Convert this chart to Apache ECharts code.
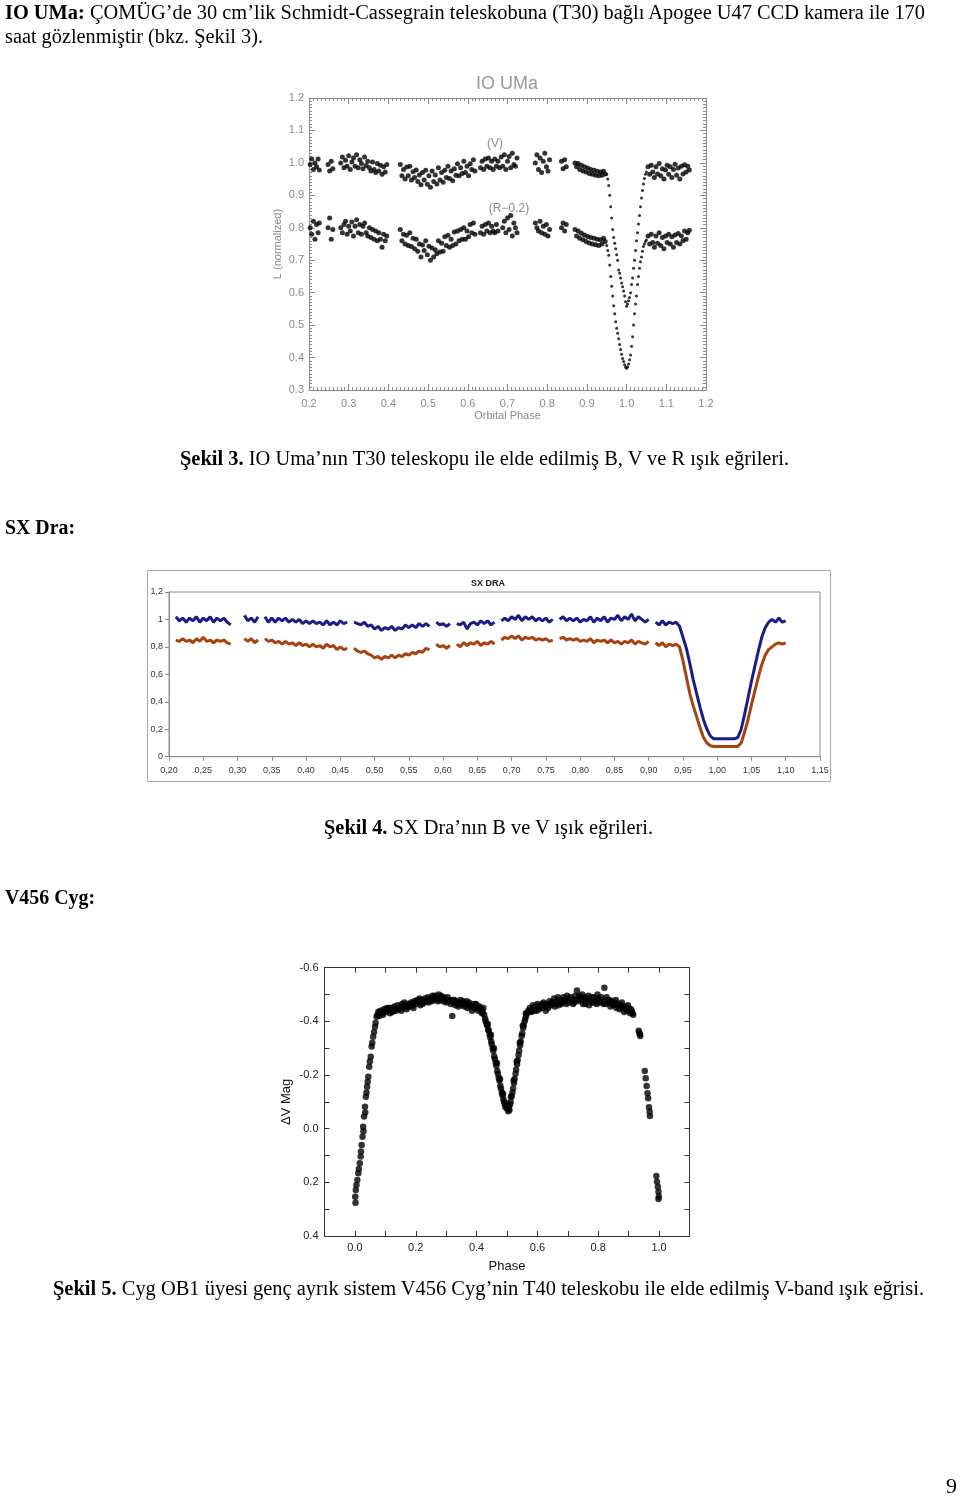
<!DOCTYPE html>
<html><head><meta charset="utf-8">
<script src="https://cdn.jsdelivr.net/npm/echarts@6/dist/echarts.min.js"></script>
<style>
html,body{margin:0;padding:0;background:#fff;}
#page{position:relative;width:960px;height:1497px;overflow:hidden;background:#fff;}
#chart{position:absolute;left:0;top:0;width:960px;height:1497px;}
.t{position:absolute;white-space:nowrap;font-family:'Liberation Serif','Times New Roman',serif;font-size:20px;line-height:20px;color:#000;transform-origin:0 50%;}
</style></head><body><div id="page"><div id="chart"></div></div>
<script>
// ---------- IO UMa (Şekil 3) ----------
const ioPhase = [
 0.203,0.207,0.211,0.215,0.219,0.223,0.226,
 0.248,0.252,0.256,0.260,
 0.280,0.284,0.288,0.292,0.296,0.300,0.304,0.308,0.312,0.316,0.320,0.324,0.328,0.332,0.336,0.340,0.344,0.348,0.352,0.356,0.360,0.364,0.368,0.372,0.376,0.380,0.384,0.388,0.392,0.396,
 0.430,0.434,0.438,0.442,0.446,0.450,0.454,0.458,0.462,0.466,0.470,0.474,0.478,0.482,0.486,0.490,0.494,0.498,0.502,0.506,0.510,0.514,0.518,0.522,0.526,0.530,0.534,0.538,0.542,0.546,0.550,0.554,0.558,0.562,0.566,0.570,0.574,0.578,0.582,0.586,0.590,0.594,0.598,0.602,0.606,0.610,0.614,0.618,
 0.632,0.636,0.640,0.644,0.648,0.652,0.656,0.660,0.664,0.668,0.672,0.676,0.680,0.684,0.688,0.692,0.696,0.700,0.704,0.708,0.712,0.716,0.720,0.724,
 0.770,0.774,0.778,0.782,0.786,0.790,0.794,0.798,0.802,0.806,
 0.836,0.840,0.844,0.848,
 0.870,0.874,0.878,0.882,0.886,0.890,0.894,0.898,0.902,0.906,0.910,0.914,0.918,0.922,0.926,0.930,0.934,0.938,0.942,0.946,
 0.9500,0.9525,0.9550,0.9575,0.9600,0.9625,0.9650,0.9675,0.9700,0.9725,0.9750,0.9775,0.9800,0.9825,0.9850,0.9875,0.9900,0.9925,0.9950,0.9975,1.0000,1.0025,1.0050,1.0075,1.0100,1.0125,1.0150,1.0175,1.0200,1.0225,1.0250,1.0275,1.0300,1.0325,1.0350,1.0375,1.0400,1.0425,1.0450,1.0475,1.0500,
 1.054,1.058,1.062,1.066,1.070,1.074,1.078,1.082,1.086,1.090,1.094,1.098,1.102,1.106,1.110,1.114,1.118,1.122,1.126,1.130,1.134,1.138,1.142,1.146,1.150,1.154,1.158
];
const ioV = [
 0.995,1.012,0.98,1.0,0.988,1.012,0.978,
 0.995,0.975,1.005,0.982,
 1.0,1.018,0.985,1.008,0.99,1.022,0.98,1.003,1.015,0.99,1.025,0.985,1.01,0.998,0.982,1.018,0.992,1.005,0.985,0.975,1.003,0.98,0.97,0.998,0.975,0.993,0.965,0.988,0.972,0.995,
 0.995,0.96,0.98,0.95,0.987,0.96,0.99,0.947,0.973,0.955,0.978,0.943,0.963,0.933,0.97,0.947,0.977,0.934,0.96,0.925,0.975,0.943,0.963,0.935,0.985,0.947,0.97,0.94,0.977,0.955,0.99,0.952,0.975,0.945,0.982,0.962,0.997,0.96,0.985,0.967,1.005,0.97,0.99,0.96,0.997,0.98,1.01,0.975,
 0.985,1.005,0.98,1.012,0.99,1.015,0.985,1.005,0.98,1.012,0.99,1.005,0.985,1.018,0.99,1.025,0.98,1.005,1.02,0.985,1.03,0.995,0.99,1.015,
 1.0,1.025,0.98,1.015,0.97,1.005,1.03,0.988,0.975,1.01,
 1.005,0.982,1.01,0.988,
 1.0,0.988,0.998,0.98,0.993,0.975,0.988,0.972,0.984,0.967,0.98,0.965,0.977,0.962,0.974,0.96,0.972,0.962,0.974,0.966,
 0.965,0.95,0.93,0.90,0.865,0.83,0.795,0.77,0.752,0.735,0.717,0.70,0.67,0.66,0.645,0.63,0.618,0.605,0.59,0.572,0.558,0.565,0.575,0.585,0.60,0.625,0.645,0.675,0.70,0.73,0.76,0.785,0.812,0.838,0.865,0.892,0.915,0.935,0.952,0.965,0.972,
 0.988,0.965,0.993,0.972,0.955,0.988,0.966,0.998,0.96,0.982,0.95,0.978,0.993,0.965,0.988,0.955,0.98,0.996,0.962,0.984,0.95,0.99,0.966,0.994,0.972,0.99,0.978
];
const ioR = [
 0.80,0.78,0.82,0.765,0.81,0.785,0.815,
 0.80,0.83,0.765,0.795,
 0.80,0.785,0.81,0.82,0.78,0.805,0.79,0.818,0.775,0.805,0.825,0.785,0.81,0.78,0.805,0.815,0.785,0.775,0.80,0.77,0.795,0.765,0.79,0.76,0.785,0.765,0.74,0.78,0.76,0.775,
 0.795,0.76,0.78,0.75,0.777,0.745,0.785,0.742,0.768,0.735,0.765,0.728,0.75,0.71,0.747,0.73,0.76,0.717,0.743,0.70,0.738,0.71,0.732,0.72,0.76,0.725,0.752,0.728,0.772,0.745,0.777,0.74,0.765,0.745,0.787,0.75,0.79,0.76,0.795,0.765,0.80,0.765,0.79,0.772,0.81,0.785,0.815,0.78,
 0.785,0.805,0.78,0.81,0.79,0.815,0.785,0.805,0.79,0.785,0.81,0.79,null,null,0.80,0.82,0.785,0.83,0.795,0.838,0.775,0.815,0.80,0.785,
 0.815,0.80,0.79,0.82,0.785,0.805,0.78,0.81,0.775,0.795,
 0.80,0.815,0.79,0.81,
 0.795,0.775,0.79,0.768,0.783,0.763,0.778,0.758,0.773,0.753,0.77,0.75,0.768,0.748,0.765,0.745,0.763,0.75,0.768,0.758,
 0.745,0.73,0.715,0.685,0.65,0.62,0.59,0.56,0.535,0.51,0.49,0.475,0.458,0.44,0.425,0.41,0.397,0.388,0.378,0.37,0.367,0.372,0.38,0.393,0.408,0.435,0.464,0.50,0.535,0.565,0.59,0.625,0.65,0.675,0.695,0.71,0.728,0.742,0.75,0.758,0.762,
 0.775,0.75,0.78,0.755,0.74,0.775,0.752,0.785,0.745,0.77,0.735,0.775,0.755,0.78,0.75,0.772,0.74,0.778,0.755,0.782,0.75,0.775,0.76,0.79,0.765,0.785,0.792
];

// ---------- SX Dra (Şekil 4) ----------
const sxPhase = [
 0.210,0.215,0.220,0.225,0.230,0.235,0.240,0.245,0.250,0.255,0.260,0.265,0.270,0.275,0.280,0.285,0.290,
 0.300,
 0.310,0.315,0.320,0.325,0.330,
 0.335,
 0.340,0.345,0.350,0.355,0.360,0.365,0.370,0.375,0.380,0.385,0.390,0.395,0.400,0.405,0.410,0.415,0.420,0.425,0.430,0.435,0.440,0.445,0.450,0.455,0.460,
 0.465,
 0.470,0.475,0.480,0.485,0.490,0.495,0.500,0.505,0.510,0.515,0.520,0.525,0.530,0.535,0.540,0.545,0.550,0.555,0.560,0.565,0.570,0.575,0.580,
 0.585,
 0.590,0.595,0.600,0.605,0.610,
 0.615,
 0.620,0.625,0.630,0.635,0.640,0.645,0.650,0.655,0.660,0.665,0.670,0.675,
 0.680,
 0.685,0.690,0.695,0.700,0.705,0.710,0.715,0.720,0.725,0.730,0.735,0.740,0.745,0.750,0.755,0.760,
 0.765,
 0.770,0.775,0.780,0.785,0.790,0.795,0.800,0.805,0.810,0.815,0.820,0.825,0.830,0.835,0.840,0.845,0.850,0.855,0.860,0.865,0.870,0.875,0.880,0.885,0.890,0.895,0.900,
 0.905,
 0.910,0.915,0.920,0.925,0.930,0.935,0.940,0.945,0.950,0.955,0.960,0.965,0.970,0.975,0.980,0.985,0.990,0.995,1.000,1.005,1.010,1.015,1.020,1.025,1.030,1.035,1.040,1.045,1.050,1.055,1.060,1.065,1.070,1.075,1.080,1.085,1.090,1.095,1.100
];
const sxBlue = [
 1.02,0.99,1.01,0.98,1.01,0.99,1.02,0.98,1.01,0.99,1.02,0.98,1.01,0.99,1.01,0.98,0.96,
 null,
 1.03,0.99,1.01,0.98,1.02,
 null,
 1.02,0.98,1.01,0.98,1.01,0.99,1.01,0.98,1.0,0.98,1.0,0.97,0.99,0.97,0.99,0.97,0.98,0.96,0.99,0.96,0.98,0.96,0.99,0.97,0.98,
 null,
 0.98,0.97,0.96,0.98,0.95,0.96,0.93,0.95,0.92,0.94,0.93,0.95,0.92,0.94,0.93,0.96,0.94,0.96,0.94,0.97,0.95,0.97,0.95,
 null,
 0.98,0.96,0.97,0.95,0.97,
 null,
 0.97,0.96,0.98,0.93,0.97,0.98,0.96,0.99,0.97,0.99,0.96,0.98,
 null,
 0.99,1.01,0.99,1.02,1.0,1.03,0.99,1.02,1.0,1.02,0.99,1.01,0.99,1.01,0.98,1.0,
 null,
 1.0,1.02,0.99,1.01,0.99,1.01,0.98,1.0,0.99,1.02,0.98,1.01,0.99,1.02,0.98,1.01,1.0,1.03,0.99,1.02,1.0,1.04,0.99,1.02,1.0,0.98,1.0,
 null,
 0.98,0.96,0.99,0.96,0.98,0.97,0.98,0.95,0.87,0.79,0.68,0.56,0.46,0.36,0.27,0.20,0.15,0.13,0.13,0.13,0.13,0.13,0.13,0.13,0.14,0.20,0.31,0.43,0.55,0.66,0.77,0.87,0.94,0.98,1.0,0.98,1.01,0.98,0.99
];
const sxBrown = [
 0.85,0.84,0.86,0.84,0.85,0.83,0.86,0.84,0.87,0.84,0.85,0.83,0.85,0.84,0.85,0.83,0.82,
 null,
 0.86,0.84,0.86,0.83,0.85,
 null,
 0.86,0.84,0.85,0.83,0.84,0.82,0.84,0.82,0.83,0.81,0.83,0.81,0.82,0.80,0.82,0.80,0.81,0.79,0.82,0.80,0.81,0.78,0.80,0.78,0.79,
 null,
 0.79,0.77,0.76,0.77,0.75,0.74,0.72,0.73,0.71,0.73,0.72,0.74,0.72,0.74,0.73,0.75,0.74,0.76,0.75,0.77,0.76,0.79,0.78,
 null,
 0.82,0.80,0.81,0.79,0.81,
 null,
 0.82,0.80,0.83,0.81,0.83,0.82,0.84,0.81,0.83,0.82,0.84,0.82,
 null,
 0.85,0.87,0.86,0.88,0.86,0.88,0.85,0.87,0.86,0.87,0.85,0.86,0.85,0.86,0.84,0.85,
 null,
 0.86,0.87,0.85,0.86,0.85,0.86,0.84,0.85,0.84,0.86,0.83,0.85,0.84,0.85,0.83,0.85,0.83,0.84,0.82,0.84,0.83,0.85,0.82,0.84,0.83,0.82,0.84,
 null,
 0.83,0.81,0.83,0.80,0.82,0.81,0.82,0.80,0.70,0.58,0.46,0.37,0.29,0.21,0.14,0.10,0.08,0.075,0.075,0.075,0.075,0.075,0.075,0.075,0.075,0.10,0.18,0.27,0.38,0.48,0.58,0.67,0.74,0.78,0.80,0.82,0.83,0.82,0.83
];

// ---------- V456 Cyg (Şekil 5): [phase, ΔV mag] ----------
const cygIngress = [[0.002,0.276],[0.001,0.254],[0.003,0.229],[0.005,0.21],[0.008,0.191],[0.011,0.166],[0.013,0.15],[0.016,0.129],[0.019,0.104],[0.020,0.085],[0.022,0.061],[0.025,0.03],[0.027,-0.007],[0.028,0.01],[0.030,-0.045],[0.033,-0.082],[0.034,-0.06],[0.036,-0.119],[0.038,-0.135],[0.040,-0.156],[0.042,-0.175],[0.044,-0.194],[0.047,-0.231],[0.049,-0.25],[0.052,-0.268],[0.055,-0.306],[0.057,-0.32],[0.060,-0.343],[0.063,-0.36],[0.066,-0.38],[0.068,-0.395],[0.071,-0.417],[0.074,-0.425],[0.077,-0.436]];
const cygMax1 = [[0.080,-0.42],[0.085,-0.44],[0.090,-0.43],[0.095,-0.445],[0.100,-0.435],[0.105,-0.45],[0.110,-0.44],[0.115,-0.43],[0.120,-0.45],[0.125,-0.44],[0.130,-0.455],[0.135,-0.44],[0.140,-0.46],[0.145,-0.445],[0.150,-0.455],[0.155,-0.465],[0.160,-0.45],[0.165,-0.46],[0.170,-0.445],[0.175,-0.465],[0.180,-0.455],[0.185,-0.47],[0.190,-0.46],[0.195,-0.475],[0.200,-0.465],[0.205,-0.48],[0.210,-0.47],[0.215,-0.46],[0.220,-0.48],[0.225,-0.47],[0.230,-0.485],[0.235,-0.475],[0.240,-0.49],[0.245,-0.48],[0.250,-0.485],[0.255,-0.495],[0.260,-0.48],[0.265,-0.49],[0.270,-0.485],[0.275,-0.5],[0.280,-0.48],[0.285,-0.49],[0.290,-0.475],[0.295,-0.485],[0.300,-0.47],[0.305,-0.49],[0.310,-0.475],[0.315,-0.465],[0.320,-0.42],[0.322,-0.48],[0.325,-0.47],[0.330,-0.46],[0.335,-0.475],[0.340,-0.455],[0.345,-0.47],[0.350,-0.46],[0.355,-0.475],[0.360,-0.455],[0.365,-0.465],[0.370,-0.45],[0.375,-0.47],[0.380,-0.455],[0.385,-0.44],[0.390,-0.465],[0.395,-0.45],[0.400,-0.46],[0.405,-0.44],[0.410,-0.455],[0.415,-0.445],[0.420,-0.435],
 [0.0825,-0.435],[0.0925,-0.425],[0.1025,-0.445],[0.1125,-0.45],[0.1225,-0.435],[0.1325,-0.445],[0.1425,-0.45],[0.1525,-0.44],[0.1625,-0.47],[0.1725,-0.455],[0.1825,-0.465],[0.1925,-0.45],[0.2025,-0.475],[0.2125,-0.485],[0.2225,-0.465],[0.2325,-0.475],[0.2425,-0.47],[0.2525,-0.475],[0.2625,-0.495],[0.2725,-0.475],[0.2825,-0.495],[0.2925,-0.49],[0.3025,-0.48],[0.3125,-0.48],[0.3275,-0.48],[0.3375,-0.465],[0.3475,-0.48],[0.3575,-0.465],[0.3675,-0.475],[0.3775,-0.46],[0.3875,-0.455],[0.3975,-0.465],[0.4075,-0.45],[0.4175,-0.43],[0.4225,-0.45]];
const cygMin2 = [[0.425,-0.425],[0.428,-0.41],[0.430,-0.40],[0.433,-0.39],[0.435,-0.385],[0.438,-0.37],[0.440,-0.365],[0.443,-0.35],[0.445,-0.34],[0.448,-0.325],[0.450,-0.315],[0.453,-0.30],[0.455,-0.29],[0.458,-0.27],[0.460,-0.26],[0.463,-0.245],[0.465,-0.235],[0.468,-0.215],[0.470,-0.205],[0.473,-0.19],[0.475,-0.18],[0.478,-0.16],[0.480,-0.15],[0.483,-0.135],[0.485,-0.125],[0.488,-0.11],[0.490,-0.10],[0.493,-0.09],[0.495,-0.08],[0.497,-0.095],[0.500,-0.075],[0.502,-0.085],[0.504,-0.065],[0.506,-0.08],[0.508,-0.07],[0.510,-0.09],[0.512,-0.10],[0.515,-0.12],[0.518,-0.135],[0.520,-0.15],[0.523,-0.17],[0.525,-0.185],[0.528,-0.205],[0.530,-0.22],[0.533,-0.24],[0.535,-0.255],[0.538,-0.275],[0.540,-0.29],[0.543,-0.31],[0.545,-0.325],[0.548,-0.345],[0.550,-0.355],[0.553,-0.375],[0.555,-0.385],[0.558,-0.40],[0.560,-0.41],[0.563,-0.42],[0.566,-0.43],[0.570,-0.44],
 [0.437,-0.39],[0.447,-0.35],[0.457,-0.30],[0.467,-0.245],[0.477,-0.185],[0.487,-0.13],[0.513,-0.12],[0.522,-0.18],[0.532,-0.25],[0.542,-0.32],[0.552,-0.385],[0.562,-0.43]];
const cygMax2 = [[0.575,-0.45],[0.580,-0.435],[0.585,-0.46],[0.590,-0.44],[0.595,-0.455],[0.600,-0.465],[0.605,-0.445],[0.610,-0.46],[0.615,-0.45],[0.620,-0.47],[0.625,-0.455],[0.630,-0.465],[0.635,-0.45],[0.640,-0.475],[0.645,-0.46],[0.650,-0.47],[0.655,-0.485],[0.660,-0.465],[0.665,-0.475],[0.670,-0.46],[0.675,-0.48],[0.680,-0.47],[0.685,-0.49],[0.690,-0.475],[0.695,-0.465],[0.700,-0.485],[0.705,-0.47],[0.710,-0.49],[0.715,-0.48],[0.720,-0.47],[0.725,-0.495],[0.730,-0.515],[0.735,-0.475],[0.740,-0.49],[0.745,-0.48],[0.750,-0.465],[0.755,-0.49],[0.760,-0.475],[0.765,-0.485],[0.770,-0.46],[0.775,-0.48],[0.780,-0.47],[0.785,-0.49],[0.790,-0.475],[0.795,-0.465],[0.800,-0.485],[0.805,-0.47],[0.810,-0.49],[0.815,-0.475],[0.820,-0.525],[0.825,-0.465],[0.830,-0.48],[0.835,-0.47],[0.840,-0.455],[0.845,-0.475],[0.850,-0.46],[0.855,-0.47],[0.860,-0.45],[0.865,-0.465],[0.870,-0.445],[0.875,-0.46],[0.880,-0.45],[0.885,-0.435],[0.890,-0.455],[0.895,-0.44],[0.900,-0.45],[0.905,-0.43],[0.910,-0.44],[0.915,-0.425],
 [0.5775,-0.44],[0.5875,-0.45],[0.5975,-0.44],[0.6075,-0.455],[0.6175,-0.465],[0.6275,-0.44],[0.6375,-0.46],[0.6475,-0.47],[0.6575,-0.455],[0.6675,-0.49],[0.6775,-0.465],[0.6875,-0.48],[0.6975,-0.495],[0.7075,-0.48],[0.7175,-0.465],[0.7275,-0.48],[0.7375,-0.495],[0.7475,-0.5],[0.7575,-0.465],[0.7675,-0.495],[0.7775,-0.49],[0.7875,-0.47],[0.7975,-0.5],[0.8075,-0.48],[0.8175,-0.465],[0.8275,-0.49],[0.8375,-0.48],[0.8475,-0.465],[0.8575,-0.48],[0.8675,-0.455],[0.8775,-0.47],[0.8875,-0.45],[0.8975,-0.46],[0.9075,-0.445],[0.9125,-0.43]];
const cygEgress = [[0.933,-0.365],[0.935,-0.357],[0.937,-0.353],[0.938,-0.345],[0.953,-0.215],[0.956,-0.188],[0.959,-0.159],[0.962,-0.132],[0.964,-0.113],[0.967,-0.08],[0.969,-0.063],[0.970,-0.047],[0.991,0.176],[0.993,0.198],[0.996,0.216],[0.998,0.235],[0.999,0.253],[0.998,0.262]];

// ---------- page text ----------
const pageTexts = [
 {html:'<b>IO UMa:</b> ÇOMÜG’de 30 cm’lik Schmidt-Cassegrain teleskobuna (T30) bağlı Apogee U47 CCD kamera ile 170', x:5, cy:12, w:920},
 {html:'saat gözlenmiştir (bkz. Şekil 3).', x:5, cy:36, w:258},
 {html:'<b>Şekil 3.</b> IO Uma’nın T30 teleskopu ile elde edilmiş B, V ve R ışık eğrileri.', x:180, cy:458, w:609},
 {html:'<b>SX Dra:</b>', x:5, cy:527, w:70},
 {html:'<b>Şekil 4.</b> SX Dra’nın B ve V ışık eğrileri.', x:324, cy:827, w:329},
 {html:'<b>V456 Cyg:</b>', x:5, cy:897, w:90},
 {html:'<b>Şekil 5.</b> Cyg OB1 üyesi genç ayrık sistem V456 Cyg’nin T40 teleskobu ile elde edilmiş V-band ışık eğrisi.', x:53, cy:1288, w:871},
 {html:'9', x:946, cy:1486, w:11}
];
const page = document.getElementById('page');
pageTexts.forEach(t => {
  const d = document.createElement('div');
  d.className = 't';
  d.innerHTML = t.html;
  d.style.left = t.x + 'px';
  d.style.top = (t.cy - 10) + 'px';
  page.appendChild(d);
  const w = d.getBoundingClientRect().width;
  if (w > 0) d.style.transform = 'scaleX(' + (t.w / w) + ')';
});

// ---------- chart ----------
const gray = '#8a8a8a';
const sans = "'Liberation Sans', Arial, sans-serif";
const narrow = "'Liberation Sans Narrow', 'Liberation Sans', Arial, sans-serif";
const pairs = (xs, ys) => xs.map((p, i) => [p, ys[i]]).filter(d => d[1] !== null);
const linePairs = (xs, ys) => xs.map((p, i) => [p, ys[i] === null ? '-' : ys[i]]);
const k10 = v => Math.round(v * 10);
// dense clouds drawn with bigger dots, the steep eclipse branches with finer ones
const ioDotSize = d => (d[0] > 0.948 && d[0] < 1.052) ? 3 : 5;

function ioAxis(grid, pos, isX, showLabel) {
  const a = {
    gridIndex: grid, type: 'value', position: pos,
    axisLine: {show: true, onZero: false, lineStyle: {color: gray, width: 1}},
    axisTick: {show: true, inside: true, length: 6, lineStyle: {color: gray}},
    minorTick: {show: true, splitNumber: 10, length: 3, lineStyle: {color: gray}},
    splitLine: {show: false}, minorSplitLine: {show: false},
    axisLabel: {show: showLabel, color: gray, fontSize: 11, fontFamily: sans, margin: isX ? 8 : 5, formatter: v => v.toFixed(1)}
  };
  if (isX) { a.min = 0.2; a.max = 1.2; a.interval = 0.1; }
  else { a.min = 0.3; a.max = 1.2; a.interval = 0.1; }
  return a;
}
function cygAxis(grid, pos, isX, showLabel) {
  const a = {
    gridIndex: grid, type: 'value', position: pos,
    axisLine: {show: true, onZero: false, lineStyle: {color: '#333', width: 1}},
    axisTick: {show: true, inside: true, length: 5, lineStyle: {color: '#333'}},
    splitLine: {show: false},
    axisLabel: {show: showLabel, color: '#222', fontSize: 11, fontFamily: sans, margin: 6,
      formatter: v => { const k = k10(v); return (k % 2 === 0 && (isX ? (k >= 0 && k <= 10) : true)) ? (k / 10).toFixed(1) : ''; }}
  };
  if (isX) { a.min = -0.1; a.max = 1.1; a.interval = 0.1; }
  else { a.min = -0.6; a.max = 0.4; a.interval = 0.1; a.inverse = true; }
  return a;
}

const xA = [
  Object.assign(ioAxis(0, 'bottom', true, true), {name: 'Orbital Phase', nameLocation: 'middle', nameGap: 20, nameTextStyle: {color: gray, fontSize: 11, fontFamily: sans}}),
  ioAxis(0, 'top', true, false),
  {gridIndex: 1, type: 'value', position: 'bottom', min: 0.2, max: 1.15, interval: 0.05,
   axisLine: {show: true, onZero: false, lineStyle: {color: '#8c8c8c'}},
   axisTick: {show: true, inside: false, length: 4, lineStyle: {color: '#8c8c8c'}},
   splitLine: {show: false},
   axisLabel: {color: '#333', fontSize: 9, fontFamily: narrow, margin: 9, formatter: v => v.toFixed(2).replace('.', ',')}},
  Object.assign(cygAxis(2, 'bottom', true, true), {name: 'Phase', nameLocation: 'middle', nameGap: 24, nameTextStyle: {color: '#111', fontSize: 13, fontFamily: sans}}),
  cygAxis(2, 'top', true, false)
];
const yA = [
  Object.assign(ioAxis(0, 'left', false, true), {name: 'L (normalized)', nameLocation: 'middle', nameGap: 26, nameRotate: 90, nameTextStyle: {color: gray, fontSize: 11, fontFamily: sans}}),
  ioAxis(0, 'right', false, false),
  {gridIndex: 1, type: 'value', position: 'left', min: 0, max: 1.2, interval: 0.2,
   axisLine: {show: true, onZero: false, lineStyle: {color: '#8c8c8c'}},
   axisTick: {show: true, inside: false, length: 4, lineStyle: {color: '#8c8c8c'}},
   splitLine: {show: false},
   axisLabel: {color: '#333', fontSize: 9, fontFamily: narrow, margin: 6, formatter: v => String(+v.toFixed(1)).replace('.', ',')}},
  Object.assign(cygAxis(2, 'left', false, true), {name: 'ΔV Mag', nameLocation: 'middle', nameGap: 32, nameRotate: 90, nameTextStyle: {color: '#111', fontSize: 13, fontFamily: sans}}),
  cygAxis(2, 'right', false, false)
];

const chart = echarts.init(document.getElementById('chart'), null, {renderer: 'canvas'});
chart.setOption({
  animation: false,
  backgroundColor: 'transparent',
  grid: [
    {left: 309, top: 98, width: 397, height: 292, containLabel: false, outerBoundsMode: 'none'},
    {left: 169, top: 592, width: 651, height: 164.7, containLabel: false, outerBoundsMode: 'none', show: true, borderColor: '#8c8c8c', borderWidth: 1, backgroundColor: 'transparent'},
    {left: 324.5, top: 967.7, width: 365, height: 268.3, containLabel: false, outerBoundsMode: 'none'}
  ],
  xAxis: xA,
  yAxis: yA,
  graphic: [
    {type: 'rect', shape: {x: 147.5, y: 570.5, width: 683, height: 211}, style: {fill: 'transparent', stroke: '#a8a8a8', lineWidth: 1}, silent: true},
    {type: 'text', x: 507, y: 84, style: {text: 'IO UMa', fontSize: 18, fontFamily: sans, fontWeight: 300, fill: '#9a9a9a', align: 'center', verticalAlign: 'middle'}},
    {type: 'text', x: 495, y: 144, style: {text: '(V)', fontSize: 12, fontFamily: sans, fill: gray, align: 'center', verticalAlign: 'middle'}},
    {type: 'text', x: 509, y: 209, style: {text: '(R−0.2)', fontSize: 12, fontFamily: sans, fill: gray, align: 'center', verticalAlign: 'middle'}},
    {type: 'text', x: 488, y: 584, style: {text: 'SX DRA', fontSize: 9, fontWeight: 'bold', fontFamily: sans, fill: '#222', align: 'center', verticalAlign: 'middle'}}
  ],
  series: [
    {name: 'V', type: 'scatter', xAxisIndex: 0, yAxisIndex: 0, symbol: 'circle', symbolSize: ioDotSize, itemStyle: {color: '#000'}, data: pairs(ioPhase, ioV), silent: true},
    {name: 'R-0.2', type: 'scatter', xAxisIndex: 0, yAxisIndex: 0, symbol: 'circle', symbolSize: ioDotSize, itemStyle: {color: '#000'}, data: pairs(ioPhase, ioR), silent: true},
    {name: 'B', type: 'line', xAxisIndex: 2, yAxisIndex: 2, showSymbol: false, connectNulls: false, lineStyle: {color: '#1c1c86', width: 3}, data: linePairs(sxPhase, sxBlue), silent: true},
    {name: 'V', type: 'line', xAxisIndex: 2, yAxisIndex: 2, showSymbol: false, connectNulls: false, lineStyle: {color: '#a8420e', width: 3}, data: linePairs(sxPhase, sxBrown), silent: true},
    {name: 'V456 Cyg', type: 'scatter', xAxisIndex: 3, yAxisIndex: 3, symbol: 'circle', symbolSize: 6.5, itemStyle: {color: '#000'},
     data: cygIngress.concat(cygMax1, cygMin2, cygMax2, cygEgress), silent: true}
  ]
});
</script></body></html>
